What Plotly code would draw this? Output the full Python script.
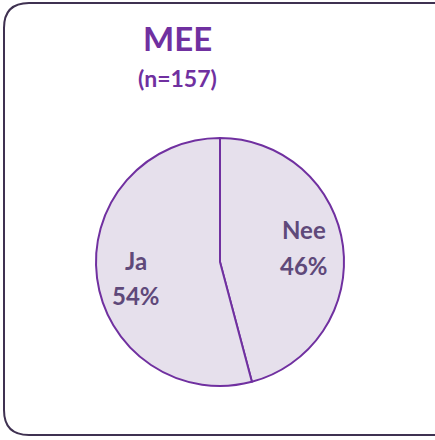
import plotly.graph_objects as go

# data
labels = ["Nee", "Ja"]
counts = [72, 85]
title_text = "MEE"
subtitle_text = "(n=157)"

W, H = 435, 440


def px(x):
    return x / W


def py(y):
    return 1 - y / H


def add_text(fig, txt, x, y, size, color):
    fig.add_annotation(text=f"<b>{txt}</b>", x=px(x), y=py(y), xref="paper", yref="paper",
                       xanchor="center", yanchor="middle", showarrow=False,
                       font=dict(family="Lato", size=size, color=color))


fig = go.Figure()

fig.add_trace(go.Pie(
    labels=labels,
    values=counts,
    sort=False,
    direction="clockwise",
    rotation=0,
    marker=dict(colors=["#E6E0EC", "#E6E0EC"], line=dict(color="#7030A0", width=2)),
    textinfo="none",
    showlegend=False,
    hoverinfo="skip",
    domain=dict(x=[px(96), px(344)], y=[py(387), py(137)]),
))

# slice labels placed like the original
total = sum(counts)
label_pos = [(304, 229, 265), (136, 260, 295)]
for lab, cnt, (lx, ly1, ly2) in zip(labels, counts, label_pos):
    pct = f"{round(100 * cnt / total)}%"
    add_text(fig, lab, lx, ly1, 24, "#5F497A")
    add_text(fig, pct, lx, ly2, 24, "#5F497A")

# rounded frame around the chart
x0, x1, y0, y1, r = px(4), px(458), py(3), py(435), 25
rx, ry = r / W, r / H
path = (
    f"M {x0 + rx},{y0} L {x1 - rx},{y0} Q {x1},{y0} {x1},{y0 - ry} "
    f"L {x1},{y1 + ry} Q {x1},{y1} {x1 - rx},{y1} "
    f"L {x0 + rx},{y1} Q {x0},{y1} {x0},{y1 + ry} "
    f"L {x0},{y0 - ry} Q {x0},{y0} {x0 + rx},{y0} Z"
)
fig.add_shape(type="path", path=path, xref="paper", yref="paper",
              line=dict(color="#3F3151", width=2))

add_text(fig, title_text, 177, 38, 33, "#7030A0")
add_text(fig, subtitle_text, 177, 78, 23, "#7030A0")

fig.update_layout(
    width=W, height=H,
    margin=dict(l=0, r=0, t=0, b=0),
    paper_bgcolor="white",
    plot_bgcolor="white",
)

fig.write_html("out.html", config={"displayModeBar": False},
               post_script="document.body.style.margin='0';")
